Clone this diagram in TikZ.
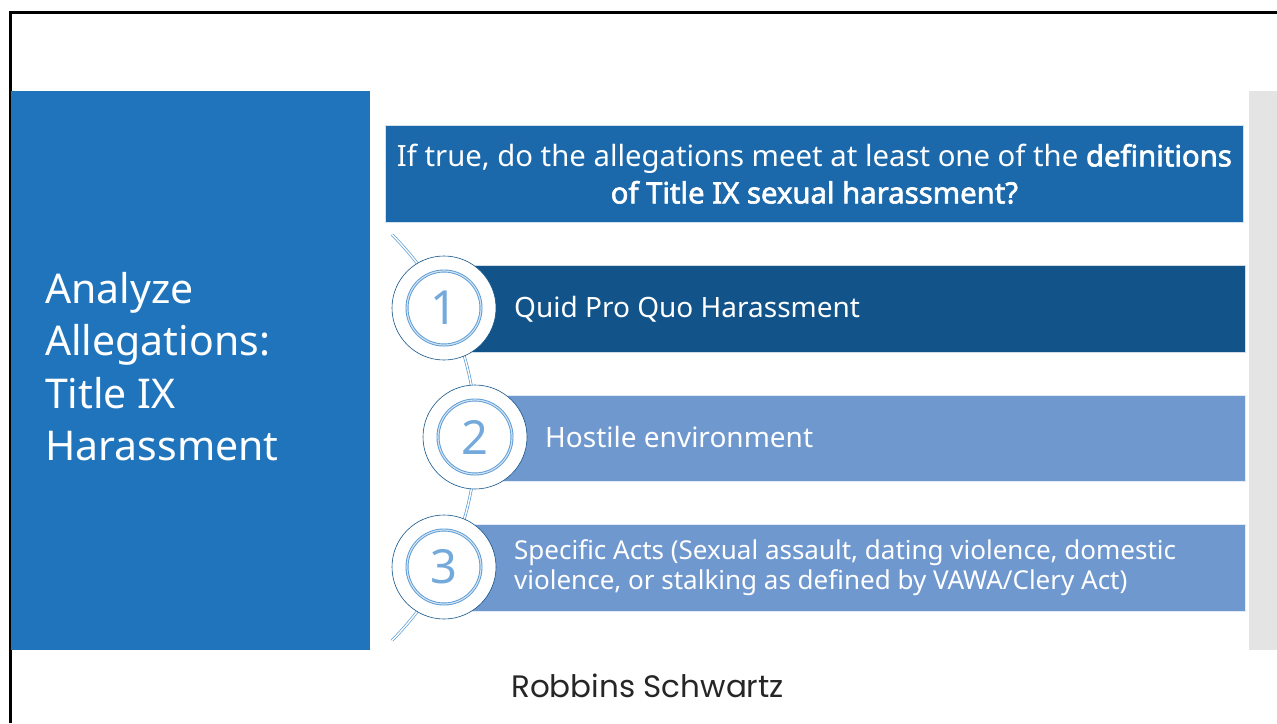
\documentclass[tikz,border=0pt]{standalone}
\usepackage{fontspec}
\setmainfont{Noto Sans}
\newfontfamily\heavy{Noto Sans}[FakeBold=2.2]
\newfontfamily\logofont{Poppins}
\usepackage{xcolor}

\definecolor{panelblue}{RGB}{31,116,188}
\definecolor{headblue}{RGB}{27,104,170}
\definecolor{darkbox}{RGB}{18,84,138}
\definecolor{lightbox}{RGB}{111,152,207}
\definecolor{ringblue}{RGB}{91,155,213}
\definecolor{stripgray}{RGB}{228,228,228}

\begin{document}
\begin{tikzpicture}[x=1pt,y=-1pt,
  bar/.style={fill=#1,draw=white!80!#1,line width=0.8,anchor=north west,inner sep=0},
  ring/.style={circle,fill=white,draw=darkbox,line width=0.6,minimum size=104,inner sep=0},
  num/.style={text=ringblue!85,font=\fontsize{47}{47}\selectfont},
  label/.style={text=white,anchor=base west,inner sep=0,font=\fontsize{28}{30}\selectfont}]

\useasboundingbox (0,0) rectangle (1277,723);

% frame
\coordinate (fb) at (10,723);
\coordinate (ftl) at (10,12.5);
\coordinate (ftr) at (1277,12.5);
\draw[line width=3] (fb)--(ftl)--(ftr);

% side panel and strip
\node[bar=panelblue,draw=none,minimum width=359,minimum height=559](panel) at (11,91){};
\node[bar=stripgray,draw=none,minimum width=28,minimum height=559](strip) at (1249,91){};
\node[text=white,anchor=north west,align=left,inner sep=0,
  font=\fontsize{41}{52.5}\selectfont](title) at (45,272){Analyze\\Allegations:\\Title IX\\Harassment};

% question
\node[bar=headblue,minimum width=858,minimum height=97](head) at (385,125){};
\node[text=white,align=center,inner sep=0,font=\fontsize{29.3}{37}\selectfont](q) at (head.center)
  {If true, do the allegations meet at least one of the {\heavy definitions}\\
   {\heavy of Title IX sexual harassment?}};

% bars
\node[bar=darkbox,minimum width=801,minimum height=87](b1) at (444,265){};
\node[bar=lightbox,minimum width=770,minimum height=86](b2) at (475,395){};
\node[bar=lightbox,minimum width=801,minimum height=87](b3) at (444,524){};

% arc behind the rings
\coordinate (arcc) at (189,437.5);
\draw[ringblue,line width=0.7,double=white,double distance=1.4]
  (arcc) ++(-45:287) arc[start angle=-45,end angle=45,radius=287];

\node[ring](c1) at (444,308){};
\node[ring](c2) at (475,437){};
\node[ring](c3) at (444,567){};
\foreach \c/\n in {c1/1,c2/2,c3/3}{
  \draw[ringblue,line width=0.9,double=white!70!ringblue,double distance=1.2] (\c) circle[radius=37];
  \node[num] at (\c) {\n};
}

\node[label](t1) at (514,317){Quid Pro Quo Harassment};
\node[label](t2) at (545,447){Hostile environment};
\node[label,align=left,anchor=north west,font=\fontsize{26}{30}\selectfont](t3) at (514,539){Specific Acts (Sexual assault, dating violence, domestic\\
  violence, or stalking as defined by VAWA/Clery Act)};

% footer
\node[anchor=base west,inner sep=0,text=black!85,font=\logofont\fontsize{31}{31}\selectfont](logo) at (511,697){Robbins Schwartz};

\end{tikzpicture}
\end{document}
